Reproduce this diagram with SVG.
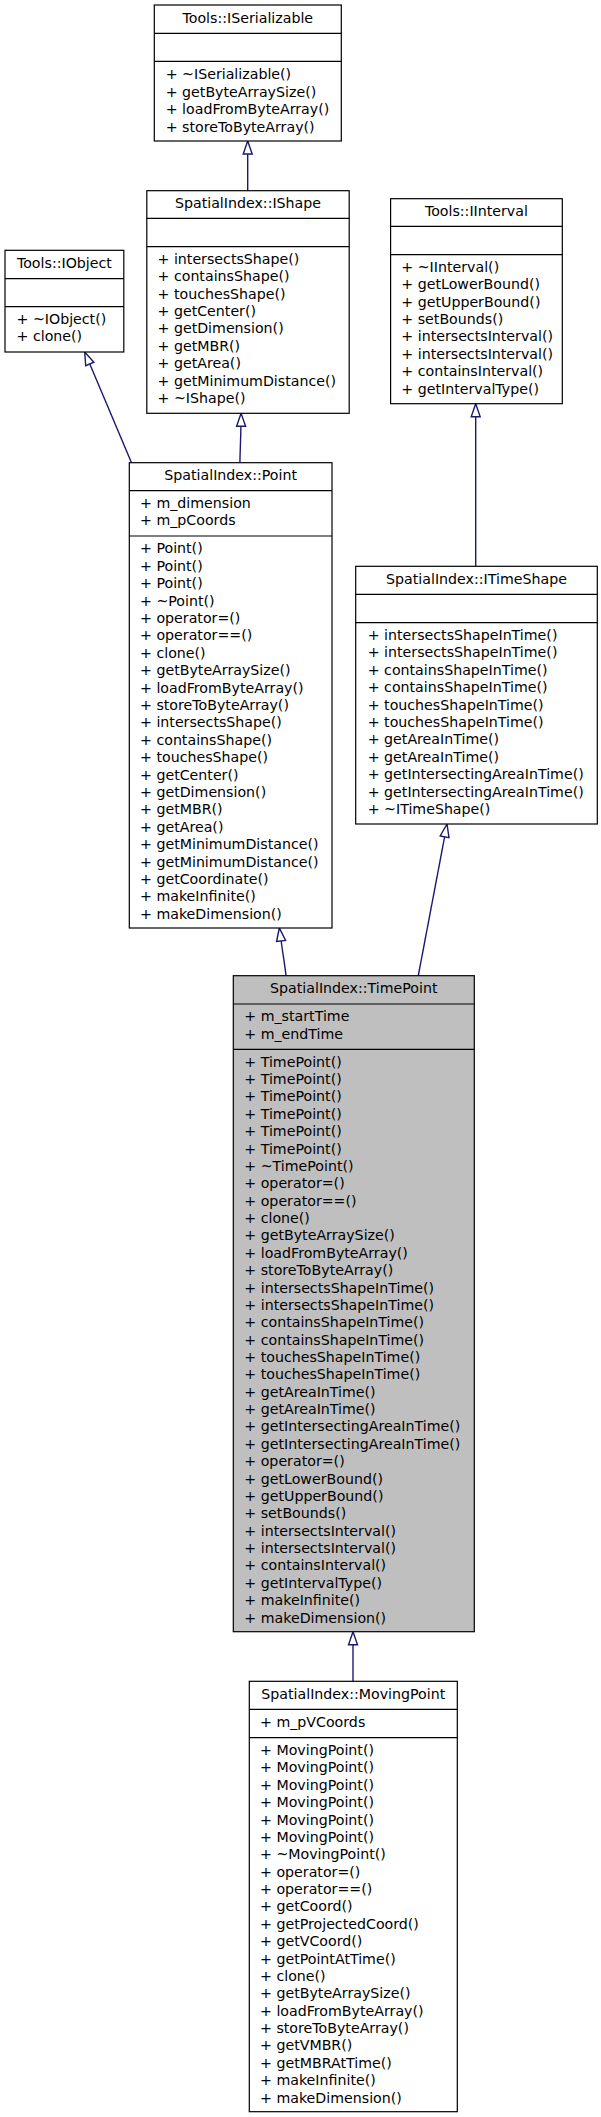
<svg xmlns="http://www.w3.org/2000/svg" width="601" height="2117" viewBox="0 0 601 2117">
<style>
.box{fill:#ffffff;stroke:#000000;stroke-width:1.2}
.cur{fill:#bfbfbf;stroke:#000000;stroke-width:1.2}
.sep{stroke:#000000;stroke-width:1.2}
text{font-family:"DejaVu Sans","Liberation Sans",sans-serif;fill:#000000}
.b{font-size:14.2px}
.t{text-anchor:middle}
.edge{fill:none;stroke:#191970;stroke-width:1.4}
.head{fill:#ffffff;stroke:#191970;stroke-width:1.4}
</style>
<rect x="0" y="0" width="601" height="2117" fill="#ffffff"/>

<g id="connectors">
  <path class="edge" d="M247.7,190.7 L247.7,154"/>
  <polygon class="head" points="247.7,141 243.2,154 252.2,154"/>
  <path class="edge" d="M131.5,462.7 L89.8,364"/>
  <polygon class="head" points="84.7,352 85.7,365.7 93.9,362.2"/>
  <path class="edge" d="M239.9,462.7 C240.1,450 240.8,438 240.9,426.3"/>
  <polygon class="head" points="241.1,413.3 236.6,426.3 245.6,426.3"/>
  <path class="edge" d="M475.7,566.3 L475.7,416.7"/>
  <polygon class="head" points="475.7,403.7 471.2,416.7 480.2,416.7"/>
  <path class="edge" d="M286,975.7 C284.6,963 282.5,952 281.2,941"/>
  <polygon class="head" points="279.3,928 276.6,941.5 285.6,940.5"/>
  <path class="edge" d="M418.3,975.7 L444.6,836.8"/>
  <polygon class="head" points="447,824 440.2,835.9 449,837.6"/>
  <path class="edge" d="M353,1681.3 L353,1644.7"/>
  <polygon class="head" points="353,1631.7 348.5,1644.7 357.5,1644.7"/>
</g>

<g id="ISerializable">
  <rect class="box" x="154.3" y="5" width="187" height="136"/>
  <line class="sep" x1="154.3" y1="33.3" x2="341.3" y2="33.3"/>
  <line class="sep" x1="154.3" y1="61.3" x2="341.3" y2="61.3"/>
  <text class="b t" x="247.8" y="23">Tools::ISerializable</text>
  <text class="b" x="165.7" y="79">
    <tspan x="165.7" y="79">+ ~ISerializable()</tspan>
    <tspan x="165.7" y="96.5">+ getByteArraySize()</tspan>
    <tspan x="165.7" y="114">+ loadFromByteArray()</tspan>
    <tspan x="165.7" y="131.5">+ storeToByteArray()</tspan>
  </text>
</g>

<g id="IShape">
  <rect class="box" x="146.8" y="190.7" width="202.4" height="222.6"/>
  <line class="sep" x1="146.8" y1="218.3" x2="349.2" y2="218.3"/>
  <line class="sep" x1="146.8" y1="246.7" x2="349.2" y2="246.7"/>
  <text class="b t" x="248" y="208">SpatialIndex::IShape</text>
  <text class="b" x="157.5">
    <tspan x="157.5" y="263.7">+ intersectsShape()</tspan>
    <tspan x="157.5" y="281.1">+ containsShape()</tspan>
    <tspan x="157.5" y="298.5">+ touchesShape()</tspan>
    <tspan x="157.5" y="315.9">+ getCenter()</tspan>
    <tspan x="157.5" y="333.3">+ getDimension()</tspan>
    <tspan x="157.5" y="350.7">+ getMBR()</tspan>
    <tspan x="157.5" y="368.1">+ getArea()</tspan>
    <tspan x="157.5" y="385.5">+ getMinimumDistance()</tspan>
    <tspan x="157.5" y="402.9">+ ~IShape()</tspan>
  </text>
</g>

<g id="IObject">
  <rect class="box" x="5" y="250.3" width="118.8" height="101.7"/>
  <line class="sep" x1="5" y1="278.7" x2="123.8" y2="278.7"/>
  <line class="sep" x1="5" y1="306.7" x2="123.8" y2="306.7"/>
  <text class="b t" x="64.4" y="267.5">Tools::IObject</text>
  <text class="b" x="16.5">
    <tspan x="16.5" y="323.7">+ ~IObject()</tspan>
    <tspan x="16.5" y="341.1">+ clone()</tspan>
  </text>
</g>

<g id="IInterval">
  <rect class="box" x="390.6" y="198.7" width="171.7" height="205"/>
  <line class="sep" x1="390.6" y1="226.3" x2="562.3" y2="226.3"/>
  <line class="sep" x1="390.6" y1="254.7" x2="562.3" y2="254.7"/>
  <text class="b t" x="476.4" y="216">Tools::IInterval</text>
  <text class="b" x="401.3">
    <tspan x="401.3" y="271.7">+ ~IInterval()</tspan>
    <tspan x="401.3" y="289.1">+ getLowerBound()</tspan>
    <tspan x="401.3" y="306.5">+ getUpperBound()</tspan>
    <tspan x="401.3" y="323.9">+ setBounds()</tspan>
    <tspan x="401.3" y="341.3">+ intersectsInterval()</tspan>
    <tspan x="401.3" y="358.7">+ intersectsInterval()</tspan>
    <tspan x="401.3" y="376.1">+ containsInterval()</tspan>
    <tspan x="401.3" y="393.5">+ getIntervalType()</tspan>
  </text>
</g>

<g id="Point">
  <rect class="box" x="129.3" y="462.7" width="202.7" height="465.3"/>
  <line class="sep" x1="129.3" y1="490.7" x2="332" y2="490.7"/>
  <line class="sep" x1="129.3" y1="536" x2="332" y2="536"/>
  <text class="b t" x="230.7" y="480">SpatialIndex::Point</text>
  <text class="b" x="140">
    <tspan x="140" y="508">+ m_dimension</tspan>
    <tspan x="140" y="525.4">+ m_pCoords</tspan>
  </text>
  <text class="b" x="140">
    <tspan x="140" y="553.3">+ Point()</tspan>
    <tspan x="140" y="570.7">+ Point()</tspan>
    <tspan x="140" y="588.1">+ Point()</tspan>
    <tspan x="140" y="605.5">+ ~Point()</tspan>
    <tspan x="140" y="622.9">+ operator=()</tspan>
    <tspan x="140" y="640.3">+ operator==()</tspan>
    <tspan x="140" y="657.7">+ clone()</tspan>
    <tspan x="140" y="675.1">+ getByteArraySize()</tspan>
    <tspan x="140" y="692.5">+ loadFromByteArray()</tspan>
    <tspan x="140" y="709.9">+ storeToByteArray()</tspan>
    <tspan x="140" y="727.3">+ intersectsShape()</tspan>
    <tspan x="140" y="744.7">+ containsShape()</tspan>
    <tspan x="140" y="762.1">+ touchesShape()</tspan>
    <tspan x="140" y="779.5">+ getCenter()</tspan>
    <tspan x="140" y="796.9">+ getDimension()</tspan>
    <tspan x="140" y="814.3">+ getMBR()</tspan>
    <tspan x="140" y="831.7">+ getArea()</tspan>
    <tspan x="140" y="849.1">+ getMinimumDistance()</tspan>
    <tspan x="140" y="866.5">+ getMinimumDistance()</tspan>
    <tspan x="140" y="883.9">+ getCoordinate()</tspan>
    <tspan x="140" y="901.3">+ makeInfinite()</tspan>
    <tspan x="140" y="918.7">+ makeDimension()</tspan>
  </text>
</g>

<g id="ITimeShape">
  <rect class="box" x="355.7" y="566.3" width="241.6" height="257.7"/>
  <line class="sep" x1="355.7" y1="594.3" x2="597.3" y2="594.3"/>
  <line class="sep" x1="355.7" y1="622.7" x2="597.3" y2="622.7"/>
  <text class="b t" x="476.5" y="583.8">SpatialIndex::ITimeShape</text>
  <text class="b" x="367.7">
    <tspan x="367.7" y="640">+ intersectsShapeInTime()</tspan>
    <tspan x="367.7" y="657.4">+ intersectsShapeInTime()</tspan>
    <tspan x="367.7" y="674.8">+ containsShapeInTime()</tspan>
    <tspan x="367.7" y="692.2">+ containsShapeInTime()</tspan>
    <tspan x="367.7" y="709.6">+ touchesShapeInTime()</tspan>
    <tspan x="367.7" y="727">+ touchesShapeInTime()</tspan>
    <tspan x="367.7" y="744.4">+ getAreaInTime()</tspan>
    <tspan x="367.7" y="761.8">+ getAreaInTime()</tspan>
    <tspan x="367.7" y="779.2">+ getIntersectingAreaInTime()</tspan>
    <tspan x="367.7" y="796.6">+ getIntersectingAreaInTime()</tspan>
    <tspan x="367.7" y="814">+ ~ITimeShape()</tspan>
  </text>
</g>

<g id="TimePoint">
  <rect class="cur" x="233.3" y="975.7" width="241" height="656"/>
  <line class="sep" x1="233.3" y1="1004" x2="474.3" y2="1004"/>
  <line class="sep" x1="233.3" y1="1049.3" x2="474.3" y2="1049.3"/>
  <text class="b t" x="353.8" y="993">SpatialIndex::TimePoint</text>
  <text class="b" x="244.3">
    <tspan x="244.3" y="1021.3">+ m_startTime</tspan>
    <tspan x="244.3" y="1038.7">+ m_endTime</tspan>
  </text>
  <text class="b" x="244.3">
    <tspan x="244.3" y="1066.7">+ TimePoint()</tspan>
    <tspan x="244.3" y="1084.07">+ TimePoint()</tspan>
    <tspan x="244.3" y="1101.44">+ TimePoint()</tspan>
    <tspan x="244.3" y="1118.81">+ TimePoint()</tspan>
    <tspan x="244.3" y="1136.18">+ TimePoint()</tspan>
    <tspan x="244.3" y="1153.55">+ TimePoint()</tspan>
    <tspan x="244.3" y="1170.92">+ ~TimePoint()</tspan>
    <tspan x="244.3" y="1188.29">+ operator=()</tspan>
    <tspan x="244.3" y="1205.66">+ operator==()</tspan>
    <tspan x="244.3" y="1223.03">+ clone()</tspan>
    <tspan x="244.3" y="1240.4">+ getByteArraySize()</tspan>
    <tspan x="244.3" y="1257.77">+ loadFromByteArray()</tspan>
    <tspan x="244.3" y="1275.14">+ storeToByteArray()</tspan>
    <tspan x="244.3" y="1292.51">+ intersectsShapeInTime()</tspan>
    <tspan x="244.3" y="1309.88">+ intersectsShapeInTime()</tspan>
    <tspan x="244.3" y="1327.25">+ containsShapeInTime()</tspan>
    <tspan x="244.3" y="1344.62">+ containsShapeInTime()</tspan>
    <tspan x="244.3" y="1361.99">+ touchesShapeInTime()</tspan>
    <tspan x="244.3" y="1379.36">+ touchesShapeInTime()</tspan>
    <tspan x="244.3" y="1396.73">+ getAreaInTime()</tspan>
    <tspan x="244.3" y="1414.1">+ getAreaInTime()</tspan>
    <tspan x="244.3" y="1431.47">+ getIntersectingAreaInTime()</tspan>
    <tspan x="244.3" y="1448.84">+ getIntersectingAreaInTime()</tspan>
    <tspan x="244.3" y="1466.21">+ operator=()</tspan>
    <tspan x="244.3" y="1483.58">+ getLowerBound()</tspan>
    <tspan x="244.3" y="1500.95">+ getUpperBound()</tspan>
    <tspan x="244.3" y="1518.32">+ setBounds()</tspan>
    <tspan x="244.3" y="1535.69">+ intersectsInterval()</tspan>
    <tspan x="244.3" y="1553.06">+ intersectsInterval()</tspan>
    <tspan x="244.3" y="1570.43">+ containsInterval()</tspan>
    <tspan x="244.3" y="1587.8">+ getIntervalType()</tspan>
    <tspan x="244.3" y="1605.17">+ makeInfinite()</tspan>
    <tspan x="244.3" y="1622.54">+ makeDimension()</tspan>
  </text>
</g>

<g id="MovingPoint">
  <rect class="box" x="249.3" y="1681.3" width="208" height="430.4"/>
  <line class="sep" x1="249.3" y1="1709.3" x2="457.3" y2="1709.3"/>
  <line class="sep" x1="249.3" y1="1737.7" x2="457.3" y2="1737.7"/>
  <text class="b t" x="353.3" y="1698.5">SpatialIndex::MovingPoint</text>
  <text class="b" x="260">
    <tspan x="260" y="1726.5">+ m_pVCoords</tspan>
  </text>
  <text class="b" x="260">
    <tspan x="260" y="1755">+ MovingPoint()</tspan>
    <tspan x="260" y="1772.38">+ MovingPoint()</tspan>
    <tspan x="260" y="1789.76">+ MovingPoint()</tspan>
    <tspan x="260" y="1807.14">+ MovingPoint()</tspan>
    <tspan x="260" y="1824.52">+ MovingPoint()</tspan>
    <tspan x="260" y="1841.9">+ MovingPoint()</tspan>
    <tspan x="260" y="1859.28">+ ~MovingPoint()</tspan>
    <tspan x="260" y="1876.66">+ operator=()</tspan>
    <tspan x="260" y="1894.04">+ operator==()</tspan>
    <tspan x="260" y="1911.42">+ getCoord()</tspan>
    <tspan x="260" y="1928.8">+ getProjectedCoord()</tspan>
    <tspan x="260" y="1946.18">+ getVCoord()</tspan>
    <tspan x="260" y="1963.56">+ getPointAtTime()</tspan>
    <tspan x="260" y="1980.94">+ clone()</tspan>
    <tspan x="260" y="1998.32">+ getByteArraySize()</tspan>
    <tspan x="260" y="2015.7">+ loadFromByteArray()</tspan>
    <tspan x="260" y="2033.08">+ storeToByteArray()</tspan>
    <tspan x="260" y="2050.46">+ getVMBR()</tspan>
    <tspan x="260" y="2067.84">+ getMBRAtTime()</tspan>
    <tspan x="260" y="2085.22">+ makeInfinite()</tspan>
    <tspan x="260" y="2102.6">+ makeDimension()</tspan>
  </text>
</g>
</svg>
